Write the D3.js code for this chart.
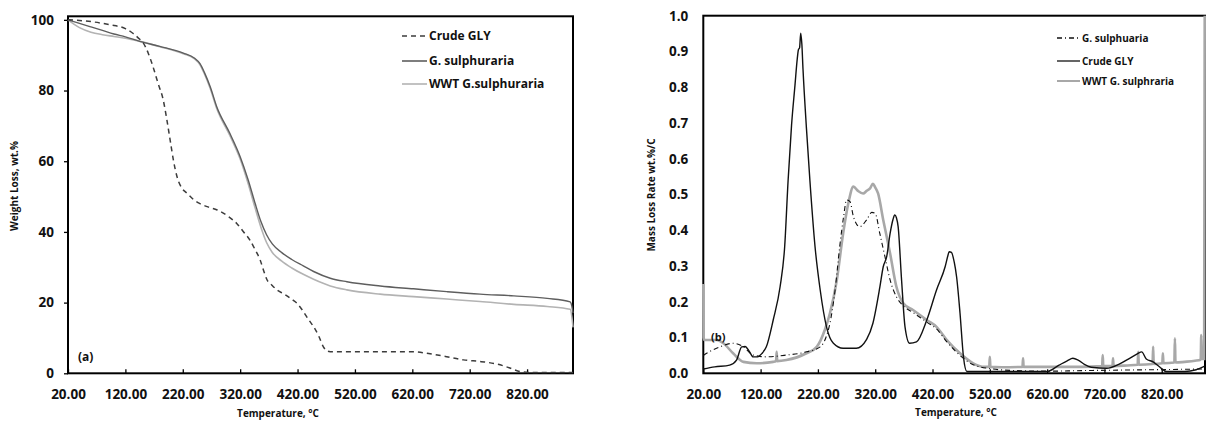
<!DOCTYPE html>
<html>
<head>
<meta charset="utf-8">
<script src="https://cdn.jsdelivr.net/npm/d3@7"></script>
<style>
  html, body { margin: 0; padding: 0; background: #fff; }
  svg text { font-family: "Open Sans", "DejaVu Sans", sans-serif; font-weight: 700; fill: #111; }
</style>
</head>
<body>
<svg id="chart" width="1209" height="421"></svg>
<script>
// ---------- (a) TGA: weight loss vs temperature ----------
const tgaTicksX = [20, 120, 220, 320, 420, 520, 620, 720, 820];
const tgaTicksY = [0, 20, 40, 60, 80, 100];

const crudeTgaT = [20, 60, 93, 120, 133, 145, 151, 160, 168, 177, 186, 192, 198, 204, 210, 218, 227, 240, 250, 265, 280, 300, 314, 326, 337, 346, 355, 361, 367, 375, 384, 398, 412, 419, 430, 440, 448, 457, 465, 472, 477, 540, 622, 651, 680, 709, 740, 768, 790, 808, 830, 900];
const crudeTgaW = [100, 99.5, 98.6, 97.5, 96.2, 94.5, 93.5, 90.5, 86.8, 82, 77.3, 72, 66, 60, 55.6, 52.5, 51, 49, 48, 47, 46.2, 44.3, 42.4, 40, 37.7, 35, 32, 29, 26.4, 25, 23.6, 22.3, 20.7, 19.8, 17.5, 15, 13.2, 10.5, 7.5, 6.3, 6.1, 6.1, 6.1, 5.5, 4.7, 3.8, 3.3, 2.6, 1.5, 0.5, 0.2, 0.2];

const galTgaT = [20, 40, 60, 80, 100, 120, 145, 180, 221, 240, 250, 258, 268, 279, 302, 320, 334, 346, 356, 366, 376, 392, 410, 430, 448, 477, 506, 564, 622, 680, 738, 797, 855, 895, 898, 900];
const galTgaW = [100, 99, 98, 97, 96, 95.2, 93.9, 92.5, 90.6, 89.2, 87.6, 85, 81, 75.5, 67.9, 61.3, 54.7, 48.1, 43, 39.2, 36.6, 34.2, 32.2, 30.4, 28.8, 26.9, 25.9, 24.7, 23.9, 23.1, 22.4, 21.9, 21.2, 20.2, 19, 17];

const wwtTgaT = [20, 40, 60, 80, 100, 120, 145, 180, 221, 240, 250, 258, 268, 279, 302, 320, 334, 346, 356, 366, 376, 392, 410, 430, 448, 477, 506, 564, 622, 680, 738, 797, 855, 895, 898, 900];
const wwtTgaW = [100, 97.8, 96.5, 95.8, 95.3, 94.8, 93.9, 92.4, 90.4, 89, 87.3, 84.6, 80.5, 75, 67.3, 60.6, 53.6, 46.8, 41.4, 37, 34.2, 31.8, 29.8, 28, 26.6, 24.7, 23.6, 22.4, 21.7, 21, 20.3, 19.5, 18.9, 18.1, 16, 13];

// ---------- (b) DTG: mass loss rate vs temperature ----------
const dtgTicksX = [20, 120, 220, 320, 420, 520, 620, 720, 820];
const dtgTicksY = [0, 0.1, 0.2, 0.3, 0.4, 0.5, 0.6, 0.7, 0.8, 0.9, 1.0];

const galDtgT = [20, 30, 49, 72, 90, 107, 130, 165, 200, 224, 234, 241, 250, 258, 265, 270, 276, 282, 293, 305, 314, 320, 328, 337, 346, 357, 368, 386, 410, 427, 445, 468, 491, 526, 560, 620, 700, 800, 895];
const galDtgV = [0.05, 0.06, 0.074, 0.084, 0.074, 0.051, 0.046, 0.051, 0.06, 0.074, 0.1, 0.14, 0.233, 0.354, 0.44, 0.485, 0.48, 0.438, 0.41, 0.429, 0.45, 0.447, 0.391, 0.326, 0.261, 0.214, 0.19, 0.17, 0.143, 0.124, 0.088, 0.05, 0.024, 0.012, 0.008, 0.006, 0.008, 0.01, 0.012];

const crudeDtgT = [20, 40, 66, 78, 87, 93, 100, 107, 115, 122, 130, 142, 154, 162, 168, 174, 180, 184, 186, 188, 190, 192, 194, 200, 206, 215, 224, 235, 247, 264, 287, 305, 316, 328, 334, 340, 346, 351, 354, 357, 360, 366, 372, 380, 392, 410, 427, 442, 447, 449, 453, 458, 462, 468, 474, 480, 500, 560, 620, 640, 655, 665, 674, 685, 697, 724, 745, 764, 778, 785, 793, 805, 817, 828, 860, 880, 895];
const crudeDtgV = [0.012, 0.018, 0.023, 0.037, 0.074, 0.075, 0.062, 0.046, 0.046, 0.055, 0.074, 0.149, 0.242, 0.354, 0.54, 0.694, 0.806, 0.88, 0.905, 0.91, 0.951, 0.92, 0.85, 0.685, 0.54, 0.354, 0.233, 0.13, 0.084, 0.07, 0.07, 0.095, 0.14, 0.24, 0.298, 0.326, 0.391, 0.43, 0.443, 0.435, 0.41, 0.261, 0.13, 0.084, 0.088, 0.149, 0.233, 0.298, 0.33, 0.34, 0.338, 0.31, 0.27, 0.168, 0.046, 0.005, 0.005, 0.005, 0.005, 0.022, 0.035, 0.042, 0.037, 0.025, 0.017, 0.014, 0.025, 0.042, 0.055, 0.06, 0.04, 0.032, 0.017, 0.005, 0.005, 0.01, 0.02];

const wwtDtgT = [20, 20.5, 22, 30, 43, 55, 72, 90, 113, 142, 147, 148, 149, 165, 200, 218, 232, 241, 253, 264, 273, 282, 290, 299, 305, 311, 316, 320, 325, 334, 346, 357, 369, 386, 410, 427, 445, 468, 491, 510, 519, 520, 521, 540, 577, 578, 579, 620, 680, 716, 717, 718, 734, 735, 736, 760, 778, 779, 780, 804, 805, 806, 821, 822, 823, 842, 843, 844, 860, 878, 888, 889, 890, 894, 895];
const wwtDtgV = [0.25, 0.1, 0.093, 0.093, 0.093, 0.084, 0.056, 0.032, 0.028, 0.032, 0.034, 0.06, 0.034, 0.037, 0.056, 0.074, 0.121, 0.168, 0.261, 0.391, 0.475, 0.522, 0.51, 0.503, 0.51, 0.517, 0.53, 0.52, 0.503, 0.429, 0.335, 0.242, 0.196, 0.177, 0.149, 0.13, 0.093, 0.056, 0.028, 0.018, 0.018, 0.046, 0.018, 0.017, 0.018, 0.042, 0.018, 0.018, 0.018, 0.02, 0.051, 0.02, 0.02, 0.042, 0.02, 0.022, 0.024, 0.06, 0.024, 0.026, 0.074, 0.026, 0.028, 0.056, 0.028, 0.03, 0.098, 0.03, 0.032, 0.035, 0.038, 0.107, 0.04, 0.04, 1.0];

// ---------- drawing ----------
const svg = d3.select("#chart");
const zip = (xs, ys) => xs.map((x, i) => [x, ys[i]]);

function frame(g, x, y, ticksX, ticksY, yFmt, yTickSize, yPad) {
  const [x0, x1] = x.range();
  const [y0, y1] = y.range();
  g.append("rect")
    .attr("x", x0).attr("y", y1)
    .attr("width", x1 - x0).attr("height", y0 - y1)
    .attr("fill", "none").attr("stroke", "#000").attr("stroke-width", 2);
  g.append("g")
    .attr("transform", `translate(0,${y0})`)
    .call(d3.axisBottom(x).tickValues(ticksX).tickFormat(d3.format(".2f"))
      .tickSizeInner(-4).tickSizeOuter(0).tickPadding(16))
    .call(a => a.select(".domain").remove())
    .call(a => a.selectAll("line").attr("stroke", "#000").attr("stroke-width", 1.3))
    .call(a => a.selectAll("text").style("font-size", "13.5px").attr("fill", "#111"));
  g.append("g")
    .attr("transform", `translate(${x0},0)`)
    .call(d3.axisLeft(y).tickValues(ticksY).tickFormat(yFmt)
      .tickSizeInner(yTickSize).tickSizeOuter(0).tickPadding(yPad))
    .call(a => a.select(".domain").remove())
    .call(a => a.selectAll("line").attr("stroke", "#000").attr("stroke-width", 1.3))
    .call(a => a.selectAll("text").style("font-size", "13.5px").attr("fill", "#111"));
}

// (a)
const xa = d3.scaleLinear().domain([20, 900]).range([68, 573]);
const ya = d3.scaleLinear().domain([0, 101]).range([373.3, 16.3]);
const ga = svg.append("g");
const lineA = d3.line().x(d => xa(d[0])).y(d => ya(d[1])).curve(d3.curveMonotoneX);

frame(ga, xa, ya, tgaTicksX, tgaTicksY, d3.format("d"), 4, 10);

ga.append("path").datum(zip(wwtTgaT, wwtTgaW)).attr("d", lineA)
  .attr("fill", "none").attr("stroke", "#b3b3b3").attr("stroke-width", 1.6);
ga.append("path").datum(zip(galTgaT, galTgaW)).attr("d", lineA)
  .attr("fill", "none").attr("stroke", "#5e5e5e").attr("stroke-width", 1.4);
ga.append("path").datum(zip(crudeTgaT, crudeTgaW)).attr("d", lineA)
  .attr("fill", "none").attr("stroke", "#3c3c3c").attr("stroke-width", 1.5)
  .attr("stroke-dasharray", "5,4");

ga.append("text").attr("x", 78).attr("y", 361).style("font-size", "12px").text("(a)");
ga.append("text").attr("x", 278).attr("y", 417).attr("text-anchor", "middle")
  .style("font-size", "10px").text("Temperature, °C");
ga.append("text").attr("transform", "translate(18,186) rotate(-90)")
  .attr("text-anchor", "middle").style("font-size", "10px").text("Weight Loss, wt.%");

const legA = [
  { name: "Crude GLY", color: "#3c3c3c", dash: "5,4", w: 1.5, y: 36 },
  { name: "G. sulphuraria", color: "#5e5e5e", dash: null, w: 1.6, y: 61 },
  { name: "WWT G.sulphuraria", color: "#b3b3b3", dash: null, w: 1.6, y: 84 }
];
legA.forEach(d => {
  ga.append("line").attr("x1", 402).attr("x2", 427).attr("y1", d.y).attr("y2", d.y)
    .attr("stroke", d.color).attr("stroke-width", d.w).attr("stroke-dasharray", d.dash);
  ga.append("text").attr("x", 429).attr("y", d.y + 4.3).style("font-size", "12px").text(d.name);
});

// (b)
const xb = d3.scaleLinear().domain([20, 895.5]).range([703.3, 1205]);
const yb = d3.scaleLinear().domain([0, 1]).range([373.3, 15.7]);
const gb = svg.append("g");
const lineB = d3.line().x(d => xb(d[0])).y(d => yb(d[1])).curve(d3.curveMonotoneX);

frame(gb, xb, yb, dtgTicksX, dtgTicksY, d3.format(".1f"), 0, 15);

gb.append("path").datum(zip(wwtDtgT, wwtDtgV)).attr("d", lineB)
  .attr("fill", "none").attr("stroke", "#a8a8a8").attr("stroke-width", 2.6);
gb.append("path").datum(zip(galDtgT, galDtgV)).attr("d", lineB)
  .attr("fill", "none").attr("stroke", "#111").attr("stroke-width", 1.1)
  .attr("stroke-dasharray", "5,3,1,3");
gb.append("path").datum(zip(crudeDtgT, crudeDtgV)).attr("d", lineB)
  .attr("fill", "none").attr("stroke", "#111").attr("stroke-width", 1.4);

gb.append("text").attr("x", 711).attr("y", 341).style("font-size", "11px").text("(b)");
gb.append("text").attr("x", 956).attr("y", 416).attr("text-anchor", "middle")
  .style("font-size", "10px").text("Temperature, °C");
gb.append("text").attr("transform", "translate(655,195) rotate(-90)")
  .attr("text-anchor", "middle").style("font-size", "10px").text("Mass Loss Rate wt.%/C");

const legB = [
  { name: "G. sulphuaria", color: "#111", dash: "5,3,1,3", w: 1.3, y: 38 },
  { name: "Crude GLY", color: "#111", dash: null, w: 1.3, y: 61 },
  { name: "WWT G. sulphraria", color: "#a8a8a8", dash: null, w: 2, y: 81 }
];
legB.forEach(d => {
  gb.append("line").attr("x1", 1057).attr("x2", 1080).attr("y1", d.y).attr("y2", d.y)
    .attr("stroke", d.color).attr("stroke-width", d.w).attr("stroke-dasharray", d.dash);
  gb.append("text").attr("x", 1082).attr("y", d.y + 3.6).style("font-size", "10px").text(d.name);
});
</script>
</body>
</html>
